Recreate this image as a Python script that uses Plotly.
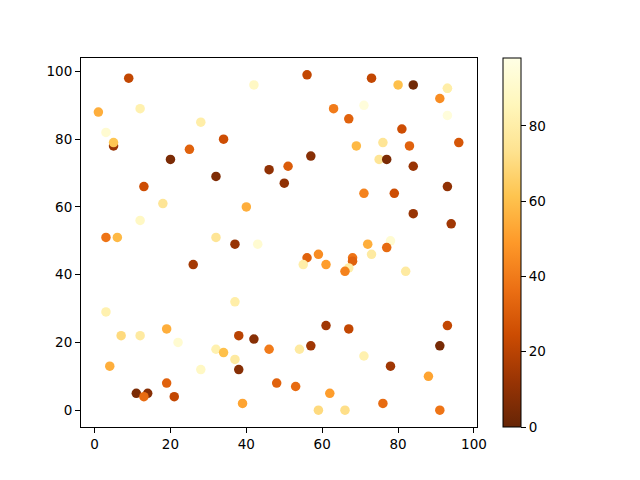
import plotly.graph_objects as go

x = [9, 42, 1, 12, 28, 3, 5, 5, 34, 25, 20, 32, 46, 51, 50, 13, 18, 40, 12, 3, 6, 32, 37, 43,
     56, 73, 80, 84, 93, 93, 91, 63, 71, 67, 93, 81, 96, 69, 76, 83, 57, 75, 77, 84, 93, 71, 79, 84, 94, 72, 78, 77,
     26, 37, 3, 19, 7, 12, 22, 38, 42, 46, 32, 34, 37, 4, 28, 38, 19, 48, 11, 14, 13, 21, 39,
     56, 59, 55, 61, 68, 68, 67, 66, 73, 82, 61, 67, 93, 54, 57, 91, 71, 78, 88, 53, 62, 59, 66, 76, 91]
y = [98, 96, 88, 89, 85, 82, 78, 79, 80, 77, 74, 69, 71, 72, 67, 66, 61, 60, 56, 51, 51, 51, 49, 49,
     99, 98, 96, 96, 95, 95, 92, 89, 90, 86, 87, 83, 79, 78, 79, 78, 75, 74, 74, 72, 66, 64, 64, 58, 55, 49, 50, 48,
     43, 32, 29, 24, 22, 22, 20, 22, 21, 18, 18, 17, 15, 13, 12, 12, 8, 8, 5, 5, 4, 4, 2,
     45, 46, 43, 43, 45, 44, 42, 41, 46, 41, 25, 24, 25, 18, 19, 19, 16, 13, 10, 7, 5, 0, 0, 2, 0]
c = [22, 88, 55, 82, 80, 92, 12, 62, 25, 32, 5, 6, 10, 30, 10, 25, 75, 55, 88, 38, 58, 75, 12, 92,
     22, 22, 60, 3, 88, 80, 45, 40, 95, 32, 95, 25, 28, 58, 75, 32, 8, 75, 5, 12, 10, 42, 25, 12, 14, 55, 92, 35,
     15, 80, 82, 55, 70, 78, 92, 20, 8, 40, 82, 60, 78, 55, 88, 8, 32, 32, 5, 8, 35, 22, 52,
     32, 45, 80, 50, 38, 32, 80, 42, 78, 78, 14, 22, 22, 78, 14, 4, 82, 14, 52, 35, 50, 70, 72, 35, 38]

fig = go.Figure()
fig.add_trace(go.Scatter(
    x=x, y=y, mode='markers',
    marker=dict(size=9.5, color=c, colorscale='YlOrBr', reversescale=True, cmin=0, cmax=98,
                line=dict(width=0),
                colorbar=dict(x=1.066, xanchor='left', xpad=0, ypad=0, y=0.5, len=1, lenmode='fraction',
                              thickness=18, outlinecolor='black', outlinewidth=1,
                              tickmode='array', tickvals=[0, 20, 40, 60, 80],
                              ticks='outside', ticklen=5, tickcolor='black',
                              tickfont=dict(size=13.5, color='black'))),
    showlegend=False))

axis = dict(showgrid=False, zeroline=False, showline=True, linecolor='black', linewidth=1, mirror=True,
            ticks='outside', ticklen=5, tickcolor='black', tickfont=dict(size=13.5, color='black'))
fig.update_xaxes(range=[-3.58, 100.8], tickvals=[0, 20, 40, 60, 80, 100], **axis)
fig.update_yaxes(range=[-4.95, 103.95], tickvals=[0, 20, 40, 60, 80, 100], **axis)
# page body has an 8px margin, so shift the plot area up/left by 8px
fig.update_layout(width=640, height=480, margin=dict(l=73, r=171, t=50, b=61),
                  plot_bgcolor='white', paper_bgcolor='white',
                  font=dict(family='DejaVu Sans', color='black'))
fig.write_html("out.html")
